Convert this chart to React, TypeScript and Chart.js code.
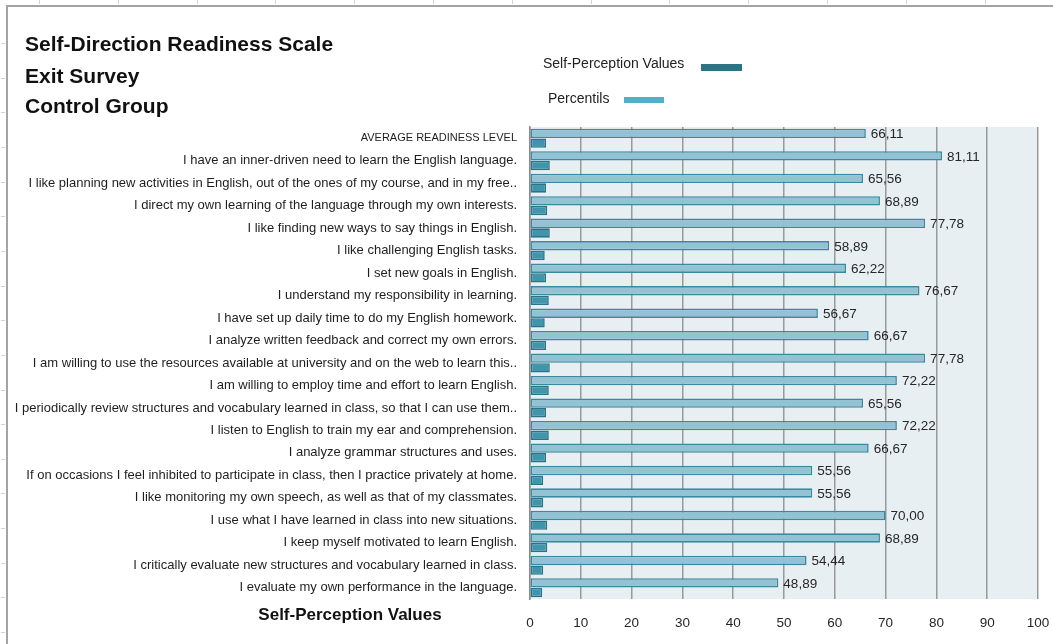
import React, { useEffect, useRef } from "react";
import { Chart, registerables } from "chart.js";

Chart.register(...registerables);

const titleLines = ["Self-Direction Readiness Scale", "Exit Survey", "Control Group"];
const seriesNames = ["Self-Perception Values", "Percentils"];
const axisTitle = "Self-Perception Values";

const categories = [
  "AVERAGE READINESS LEVEL",
  "I have an inner-driven need to learn the English language.",
  "I like planning new activities in English, out of the ones of my course, and in my free..",
  "I direct my own learning of the language through my own interests.",
  "I like finding new ways to say things in English.",
  "I like challenging English tasks.",
  "I set new goals in English.",
  "I understand my responsibility in learning.",
  "I have set up daily time to do my English homework.",
  "I analyze written feedback and correct my own errors.",
  "I am willing to use the resources available at university and on the web to learn this..",
  "I am willing to employ time and effort to learn English.",
  "I periodically review structures and vocabulary learned in class, so that I can use them..",
  "I listen to English to train my ear and comprehension.",
  "I analyze grammar structures and uses.",
  "If on occasions I feel inhibited to participate in class, then I practice privately at home.",
  "I like monitoring my own speech, as well as that of my classmates.",
  "I use what I have learned in class into new situations.",
  "I keep myself motivated to learn English.",
  "I critically evaluate new structures and vocabulary learned in class.",
  "I evaluate my own performance in the language.",
];

const percentils = [
  66.11, 81.11, 65.56, 68.89, 77.78, 58.89, 62.22, 76.67, 56.67, 66.67, 77.78,
  72.22, 65.56, 72.22, 66.67, 55.56, 55.56, 70.0, 68.89, 54.44, 48.89,
];

const selfPerception = [
  3.15, 3.9, 3.15, 3.4, 3.9, 2.9, 3.15, 3.7, 2.9, 3.15, 3.9,
  3.7, 3.15, 3.7, 3.15, 2.6, 2.6, 3.4, 3.4, 2.6, 2.4,
];

const xMin = 0;
const xMax = 100;
const xStep = 10;

const FONT = '"Liberation Sans", Arial, sans-serif';

const bgPlugin = {
  id: "plotBg",
  beforeDraw(chart: any) {
    const { ctx, chartArea } = chart;
    ctx.save();
    ctx.fillStyle = "#e8eff3";
    ctx.fillRect(chartArea.left, chartArea.top, chartArea.right - chartArea.left, chartArea.bottom - chartArea.top);
    ctx.restore();
  },
};

const labelPlugin = {
  id: "valueLabels",
  afterDatasetsDraw(chart: any) {
    const meta = chart.getDatasetMeta(0);
    const ctx = chart.ctx;
    ctx.save();
    ctx.font = `13.5px ${FONT}`;
    ctx.fillStyle = "#262626";
    ctx.textAlign = "left";
    ctx.textBaseline = "middle";
    meta.data.forEach((bar: any, i: number) => {
      ctx.fillText(percentils[i].toFixed(2).replace(".", ","), bar.x + 5, bar.y + 1);
    });
    ctx.restore();
  },
};

export default function App() {
  const canvasRef = useRef<HTMLCanvasElement | null>(null);

  useEffect(() => {
    if (!canvasRef.current) return;
    const chart = new Chart(canvasRef.current, {
      type: "bar",
      data: {
        labels: categories,
        datasets: [
          {
            label: seriesNames[1],
            data: percentils,
            backgroundColor: "#93c3d3",
            borderColor: "#3a89a0",
            borderWidth: 1.6,
            borderSkipped: false,
            categoryPercentage: 0.86,
            barPercentage: 0.97,
          },
          {
            label: seriesNames[0],
            data: selfPerception,
            backgroundColor: "#3f95ab",
            borderColor: "#2c7388",
            borderWidth: 1.6,
            borderSkipped: false,
            categoryPercentage: 0.86,
            barPercentage: 0.97,
          },
        ],
      },
      options: {
        indexAxis: "y",
        responsive: false,
        animation: false,
        devicePixelRatio: 1,
        layout: { padding: { left: 0, right: 0, top: 127, bottom: 0 } },
        plugins: {
          legend: { display: false },
          title: { display: false },
          tooltip: { enabled: false },
        },
        scales: {
          x: {
            min: xMin,
            max: xMax,
            ticks: {
              stepSize: xStep,
              padding: 16,
              color: "#262626",
              font: { family: FONT, size: 13.5 },
              maxRotation: 0,
            },
            grid: { color: "#9a9a9a", lineWidth: 1.5, drawTicks: false },
            border: { display: false },
            afterFit(scale: any) {
              scale.height = 45;
              scale.paddingRight = 15;
            },
          },
          y: {
            ticks: {
              autoSkip: false,
              padding: 13,
              color: "#1e1e1e",
              font: (c: any) => ({ family: FONT, size: c.index === 0 ? 11 : 13 }),
            },
            grid: { display: false, drawTicks: false },
            border: { display: true, color: "#8a8a8a", width: 1.5 },
            afterFit(scale: any) {
              scale.width = 530;
            },
          },
        },
      },
      plugins: [bgPlugin, labelPlugin],
    } as any);
    return () => chart.destroy();
  }, []);

  const topTicks = Array.from({ length: 14 }, (_, i) => 39 + i * 78.8);
  const leftTicks = Array.from({ length: 18 }, (_, i) => 43 + i * 34.65);

  return (
    <div style={{ position: "absolute", left: 0, top: 0, width: 1053, height: 644, overflow: "hidden", background: "#fff", fontFamily: FONT }}>
      {topTicks.map((x, i) => (
        <div key={"t" + i} style={{ position: "absolute", left: x, top: 0, width: 1, height: 4, background: "#ccd4e0" }} />
      ))}
      {leftTicks.map((y, i) => (
        <div key={"l" + i} style={{ position: "absolute", left: 1, top: y, width: 4, height: 1, background: "#ccd4e0" }} />
      ))}
      <div style={{ position: "absolute", left: 6, top: 5, width: 1060, height: 700, borderLeft: "2px solid #a3a3a3", borderTop: "2px solid #a3a3a3" }} />
      <canvas ref={canvasRef} width={1053} height={644} style={{ position: "absolute", left: 0, top: 0, width: 1053, height: 644 }} />
      {titleLines.map((t, i) => (
        <div key={"title" + i} style={{ position: "absolute", left: 25, top: [33, 65, 95][i], fontSize: 21, lineHeight: "21px", fontWeight: "bold", color: "#111", whiteSpace: "nowrap" }}>
          {t}
        </div>
      ))}
      <div style={{ position: "absolute", left: 543, top: 56, fontSize: 14, lineHeight: "14px", color: "#222", whiteSpace: "nowrap" }}>{seriesNames[0]}</div>
      <div style={{ position: "absolute", left: 701, top: 64, width: 41, height: 7, background: "#2b7485" }} />
      <div style={{ position: "absolute", left: 548, top: 91, fontSize: 14, lineHeight: "14px", color: "#222", whiteSpace: "nowrap" }}>{seriesNames[1]}</div>
      <div style={{ position: "absolute", left: 624, top: 97, width: 40, height: 6, background: "#52b0c9" }} />
      <div style={{ position: "absolute", left: 200, width: 300, textAlign: "center", top: 606, fontSize: 17, lineHeight: "17px", fontWeight: "bold", color: "#111", whiteSpace: "nowrap" }}>
        {axisTitle}
      </div>
    </div>
  );
}
